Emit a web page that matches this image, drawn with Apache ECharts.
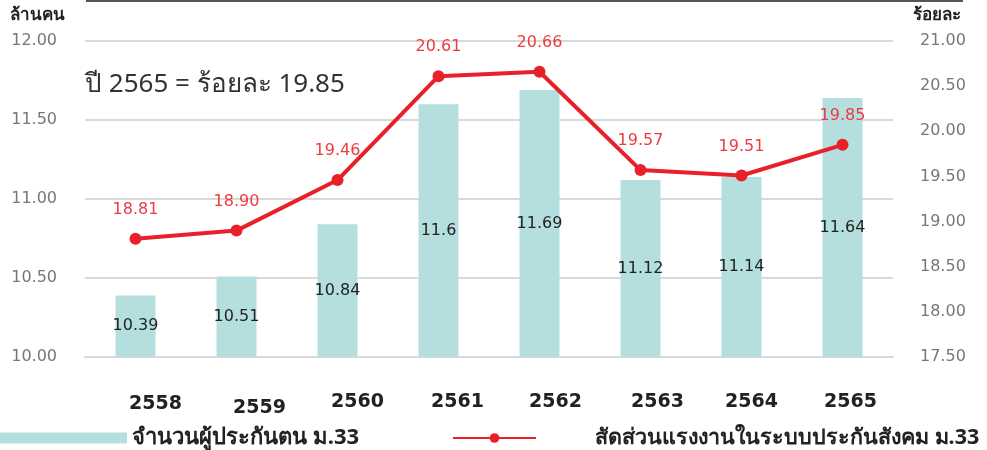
<!DOCTYPE html>
<html>
<head>
<meta charset="utf-8">
<script src="https://cdn.jsdelivr.net/npm/echarts@6/dist/echarts.min.js"></script>
<style>
  html, body { margin: 0; padding: 0; background: #fff; }
  #chart { width: 987px; height: 450px; }
</style>
</head>
<body>
<div id="chart"></div>
<script>
var years = ['2558', '2559', '2560', '2561', '2562', '2563', '2564', '2565'];
var insured = [10.39, 10.51, 10.84, 11.6, 11.69, 11.12, 11.14, 11.64];
var share = [18.81, 18.90, 19.46, 20.61, 20.66, 19.57, 19.51, 19.85];
var barName = 'จำนวนผู้ประกันตน ม.33';
var lineName = 'สัดส่วนแรงงานในระบบประกันสังคม ม.33';

var font = "'DejaVu Sans', 'Noto Sans', sans-serif";
var thaiFont = "Tahoma, 'Noto Sans', sans-serif";

// the year labels in the original sit a little right of their bars, unevenly
var labelShiftX = [20, 23, 20, 19, 16, 17, 10, 8];
var labelShiftY = [1, 3, -1, 0, 0, 0, 0, 0];
var yearRich = {};
labelShiftX.forEach(function (dx, i) {
  yearRich['y' + i] = {
    fontSize: 19,
    fontWeight: 'bold',
    color: '#222',
    fontFamily: font,
    padding: [Math.max(0, labelShiftY[i] * 2), 0, Math.max(0, -labelShiftY[i] * 2), dx * 2]
  };
});

var chart = echarts.init(document.getElementById('chart'));

var option = {
  backgroundColor: '#fff',
  textStyle: { fontFamily: font },
  grid: { left: 85, right: 94, top: 41, bottom: 93 },
  legend: [{
    data: [barName],
    left: 0,
    top: 427,
    padding: 0,
    icon: 'rect',
    itemWidth: 127,
    itemHeight: 11,
    textStyle: { fontSize: 22, fontWeight: 'bold', color: '#222', fontFamily: thaiFont }
  }, {
    data: [lineName],
    left: 452,
    top: 427,
    padding: 0,
    itemWidth: 83,
    itemHeight: 12,
    textStyle: { fontSize: 21.5, fontWeight: 'bold', color: '#222', fontFamily: thaiFont, padding: [0, 0, 0, 54] }
  }],
  graphic: [
    { type: 'line', shape: { x1: 86, y1: 1, x2: 963, y2: 1 }, style: { stroke: '#555', lineWidth: 2 } },
    { type: 'text', left: 10, top: 7, style: { text: 'ล้านคน', font: 'bold 17px ' + thaiFont, fill: '#222' } },
    { type: 'text', left: 913, top: 7, style: { text: 'ร้อยละ', font: 'bold 17px ' + thaiFont, fill: '#222' } },
    { type: 'text', left: 85, top: 72, style: { text: 'ปี 2565 = ร้อยละ 19.85', font: '26px ' + thaiFont, fill: '#333' } }
  ],
  xAxis: {
    type: 'category',
    data: years,
    axisTick: { show: false },
    axisLine: { lineStyle: { color: '#d9d9d9', width: 2 } },
    axisLabel: {
      margin: 36,
      formatter: function (v, i) { return '{y' + i + '|' + v + '}'; },
      rich: yearRich
    }
  },
  yAxis: [{
    type: 'value',
    min: 10,
    max: 12,
    interval: 0.5,
    axisLine: { show: false },
    axisTick: { show: false },
    splitLine: { lineStyle: { color: '#d9d9d9', width: 2 } },
    axisLabel: { margin: 28, fontSize: 16, color: '#777', formatter: function (v) { return v.toFixed(2); } }
  }, {
    type: 'value',
    min: 17.5,
    max: 21,
    interval: 0.5,
    axisLine: { show: false },
    axisTick: { show: false },
    splitLine: { show: false },
    axisLabel: { margin: 27, fontSize: 16, color: '#777', formatter: function (v) { return v.toFixed(2); } }
  }],
  series: [{
    name: barName,
    type: 'bar',
    data: insured,
    barWidth: 40,
    itemStyle: { color: '#b5dfdf' },
    label: { show: true, position: 'inside', fontSize: 16, color: '#222' }
  }, {
    name: lineName,
    type: 'line',
    yAxisIndex: 1,
    data: share,
    symbol: 'circle',
    symbolSize: 12,
    lineStyle: { color: '#e8202a', width: 4 },
    itemStyle: { color: '#e8202a' },
    label: {
      show: true,
      position: 'top',
      distance: 15,
      fontSize: 16,
      color: '#ee3b3f',
      formatter: function (p) { return p.value.toFixed(2); }
    }
  }]
};

chart.setOption(option);
</script>
</body>
</html>
